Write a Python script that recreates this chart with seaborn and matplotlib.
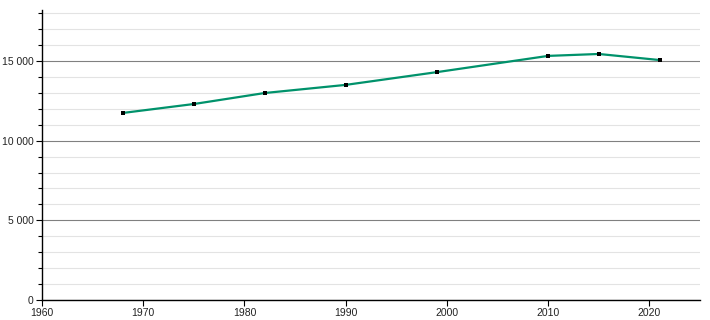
import matplotlib
matplotlib.use("Agg")
import matplotlib.pyplot as plt
import matplotlib.ticker as mticker
import seaborn as sns
import pandas as pd

years = [1968, 1975, 1982, 1990, 1999, 2010, 2015, 2021]
population = [11740, 12300, 12990, 13500, 14300, 15320, 15440, 15060]

df = pd.DataFrame({"year": years, "population": population})

sns.set_theme(style="white")
plt.rcParams["font.family"] = ["Liberation Sans", "DejaVu Sans"]

fig = plt.figure(figsize=(7.1, 3.2), dpi=100)
ax = fig.add_axes([42/710, 20/320, 658/710, 290/320])

sns.lineplot(data=df, x="year", y="population", ax=ax, color="#00926b",
             linewidth=1.6, zorder=3)
sns.scatterplot(data=df, x="year", y="population", ax=ax, color="black",
                marker="s", s=12, linewidth=0, zorder=4)

ax.set_xlim(1960, 2025)
ax.set_ylim(0, 18200)
ax.xaxis.set_major_locator(mticker.MultipleLocator(10))
ax.yaxis.set_major_locator(mticker.MultipleLocator(5000))
ax.yaxis.set_minor_locator(mticker.MultipleLocator(1000))
ax.yaxis.set_major_formatter(mticker.FuncFormatter(lambda v, p: f"{int(v):,}".replace(",", " ")))

ax.grid(which="minor", axis="y", color="#e3e3e3", linewidth=0.8, zorder=0)
ax.grid(which="major", axis="y", color="#808080", linewidth=0.8, zorder=1)
ax.set_axisbelow(True)

for s in ["top", "right"]:
    ax.spines[s].set_visible(False)
for s in ["left", "bottom"]:
    ax.spines[s].set_color("black")
    ax.spines[s].set_linewidth(1.0)

ax.tick_params(axis="both", which="major", direction="out", length=4, width=0.8,
               color="black", labelsize=7.5, labelcolor="#222222", left=True, bottom=True,
               pad=2)
ax.tick_params(axis="y", which="minor", direction="out", length=3, width=0.8,
               color="black", left=True)
ax.set_xlabel("")
ax.set_ylabel("")

fig.savefig("out.png", dpi=100)
